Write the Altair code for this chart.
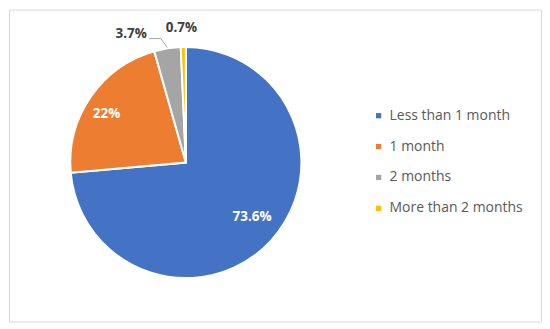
import altair as alt
import pandas as pd

categories = ["Less than 1 month", "1 month", "2 months", "More than 2 months"]
values = [73.6, 22.0, 3.7, 0.7]
labels = ["73.6%", "22%", "3.7%", "0.7%"]
colors = ["#4472C4", "#ED7D31", "#A5A5A5", "#FFC000"]

df = pd.DataFrame({"category": categories, "value": values, "label": labels,
                   "order": list(range(len(categories)))})

W, H = 534, 313
CX, CY = 177.5, 153.5
R = 116
FONT = "Open Sans"

theta = alt.Theta("value:Q", stack=True)
order = alt.Order("order:Q", sort="ascending")
cx = alt.value(CX)
cy = alt.value(CY)

arcs = alt.Chart(df).mark_arc(outerRadius=R, stroke="white", strokeWidth=2).encode(
    theta=theta, order=order, x=cx, y=cy,
    color=alt.Color("category:N", scale=alt.Scale(domain=categories, range=colors),
                    legend=alt.Legend(title=None, orient="none", legendX=364, legendY=99.5,
                                      padding=0, symbolType="square", symbolSize=28,
                                      labelFontSize=14, labelFont=FONT, labelColor="#595959",
                                      rowPadding=17, labelOffset=4, symbolStrokeWidth=0)),
)


def label_layer(idx, radius, dx, dy, color):
    return alt.Chart(df).transform_calculate(
        t=f"datum.order == {idx} ? datum.label : ''"
    ).mark_text(radius=radius, dx=dx, dy=dy, font=FONT, fontSize=13.5, fontWeight="bold",
                color=color, baseline="middle").encode(
        theta=theta, order=order, x=cx, y=cy, text="t:N")


geo = alt.Chart(df).transform_window(
    cum="sum(value)", sort=[alt.SortField("order")], frame=[None, 0]
).transform_joinaggregate(
    total="sum(value)"
).transform_calculate(
    a="(datum.cum - datum.value/2) / datum.total * 2 * PI",
).transform_calculate(
    x1=f"{CX} + {R + 1} * sin(datum.a)",
    y1=f"{CY} - {R + 1} * cos(datum.a)",
    x2=f"{CX} + {R + 10} * sin(datum.a) - 5",
    y2=f"{CY} - {R + 10} * cos(datum.a)",
).transform_calculate(
    x3="datum.x2 - 12"
).transform_filter("datum.order == 2")

lead1 = geo.mark_rule(color="#A5A5A5", strokeWidth=1).encode(
    x=alt.X("x1:Q", scale=None, axis=None), y=alt.Y("y1:Q", scale=None, axis=None),
    x2="x2:Q", y2="y2:Q")
lead2 = geo.mark_rule(color="#A5A5A5", strokeWidth=1).encode(
    x=alt.X("x2:Q", scale=None, axis=None), y=alt.Y("y2:Q", scale=None, axis=None),
    x2="x3:Q", y2="y2:Q")

chart = alt.layer(
    arcs, lead1, lead2,
    label_layer(0, 86, 3, -3.5, "white"),
    label_layer(1, 93, -3, 4, "white"),
    label_layer(2, 140, -32.5, 9, "#404040"),
    label_layer(3, 135, -1.5, 0, "#404040"),
).properties(
    width=W, height=H, padding=1, autosize="none", background="white"
).configure_view(stroke="#D9D9D9", strokeWidth=1)

chart.save("out.html", embed_options={"renderer": "svg", "actions": False})
